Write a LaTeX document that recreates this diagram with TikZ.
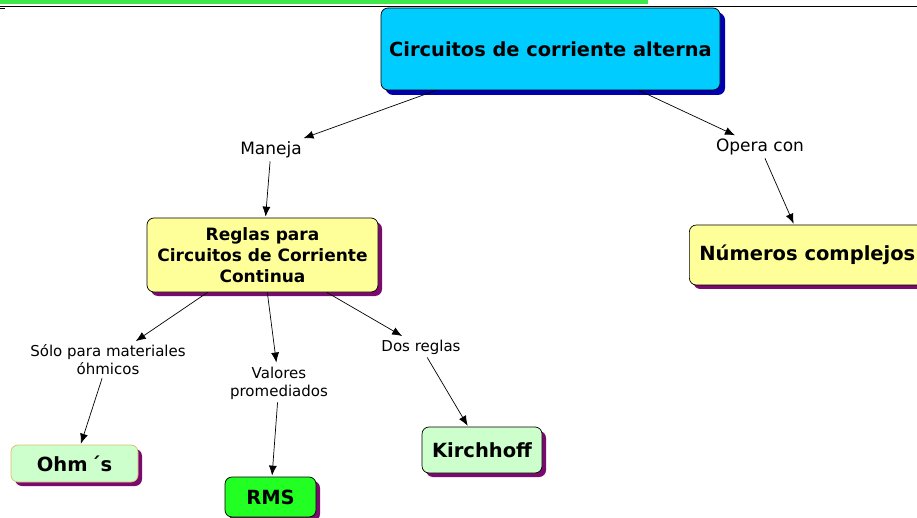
\documentclass[tikz,border=0pt]{standalone}
\usepackage{fontspec}
\setmainfont{DejaVu Sans}
\usetikzlibrary{arrows.meta,shadows}

\definecolor{cian}{HTML}{00CCFF}
\definecolor{azuloscuro}{HTML}{0000B0}
\definecolor{amarillo}{HTML}{FFFF99}
\definecolor{morado}{HTML}{7A0A6E}
\definecolor{verdeclaro}{HTML}{CCFFCC}
\definecolor{verde}{HTML}{22FF22}
\definecolor{barra}{HTML}{3EE84A}
\definecolor{borde}{HTML}{D8C070}

\begin{document}
\begin{tikzpicture}[x=1pt,y=-1pt,
  concepto/.style={draw=black,line width=0.7pt,rounded corners=7pt,align=center,
    font=\fontsize{19.5}{22}\selectfont\bfseries,
    general shadow={fill=morado,shadow xshift=4pt,shadow yshift=-4pt}},
  enlace/.style={align=center,font=\fontsize{15}{18}\selectfont,inner sep=3pt},
  flecha/.style={line width=0.7pt,-{Latex[length=10pt,width=8pt]},shorten >=1pt}]

\clip (0,0) rectangle (917,518);

% barra superior
\fill[barra] (0,0) rectangle (648,4.5);
\draw[line width=1.2pt] (0,6.5) -- (917,6.5);
\draw[line width=1.5pt] (0,8.5) -- (5,8.5);

% conceptos
\node[concepto,fill=cian,minimum width=339pt,minimum height=82pt,
  font=\fontsize{19.4}{22}\selectfont\bfseries,
  general shadow={fill=azuloscuro,shadow xshift=5pt,shadow yshift=-5pt}] (circuitos) at (550.5,49) {Circuitos de corriente alterna};
\node[concepto,fill=amarillo,minimum width=231pt,minimum height=74pt,
  font=\fontsize{17}{21}\selectfont\bfseries] (reglas) at (262.5,255) {Reglas para\\Circuitos de Corriente\\Continua};
\node[concepto,fill=amarillo,minimum width=236pt,minimum height=60pt,anchor=west] (numeros) at (689,255) {Números complejos};
\node[concepto,fill=verdeclaro,draw=borde,minimum width=127pt,minimum height=37pt] (ohm) at (74.5,463.5) {Ohm\,´s};
\node[concepto,fill=verde,minimum width=91pt,minimum height=40pt] (rms) at (270.5,497) {RMS};
\node[concepto,fill=verdeclaro,minimum width=120pt,minimum height=46pt] (kirchhoff) at (482,450) {Kirchhoff};

% enlaces
\node[enlace,font=\fontsize{17}{20}\selectfont] (maneja) at (271,150) {Maneja};
\node[enlace,font=\fontsize{17}{20}\selectfont] (opera) at (760,147) {Opera con};
\node[enlace] (solo) at (108,360) {Sólo para materiales\\óhmicos};
\node[enlace] (valores) at (279,383) {Valores\\promediados};
\node[enlace] (dos) at (421,347) {Dos reglas};

\draw[flecha] (circuitos) -- (maneja);
\draw[flecha] (maneja) -- (reglas);
\draw[flecha] (circuitos) -- (opera);
\draw[flecha] (opera) -- (numeros);
\draw[flecha] (reglas) -- (solo);
\draw[flecha] (reglas) -- (valores);
\draw[flecha] (reglas) -- (dos);
\draw[flecha] (solo) -- (ohm);
\draw[flecha] (valores) -- (rms);
\draw[flecha] (dos) -- (kirchhoff);
\end{tikzpicture}
\end{document}
